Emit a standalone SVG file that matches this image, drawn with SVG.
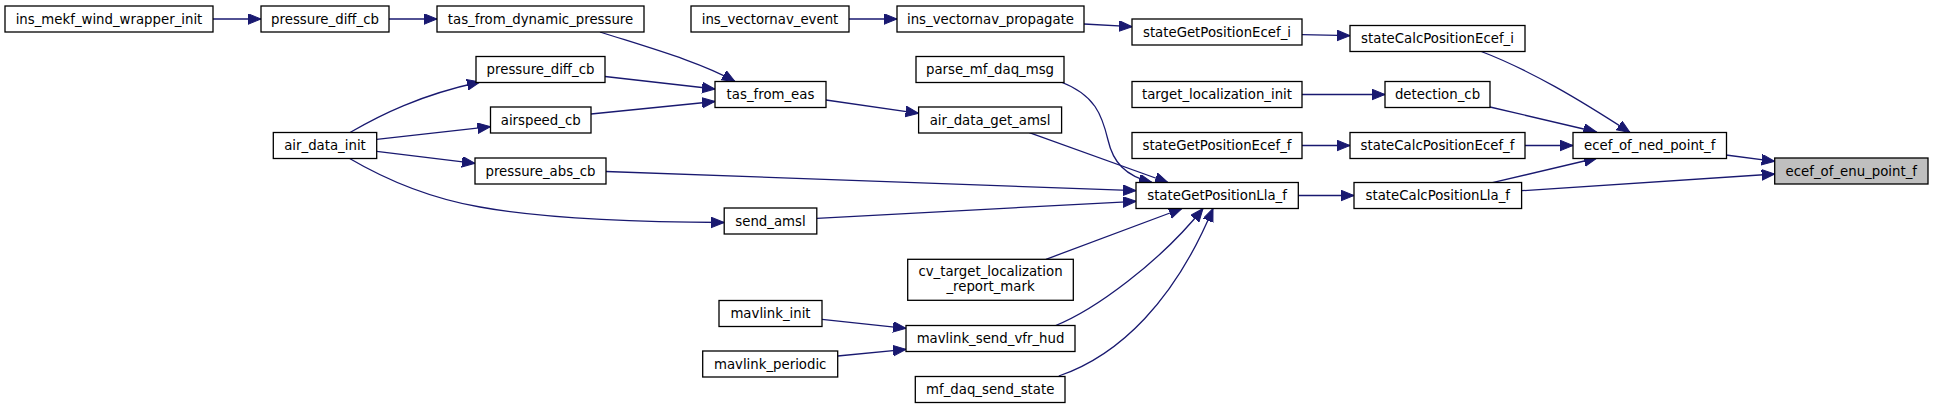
<svg xmlns="http://www.w3.org/2000/svg" width="1933" height="408" viewBox="0 0 1933 408">
<defs>
<marker id="ah" markerUnits="userSpaceOnUse" markerWidth="14" markerHeight="12" refX="13" refY="5.3" orient="auto">
<path d="M0,0 L13,5.3 L0,10.6 Z" fill="#191970" stroke="#191970" stroke-width="1"/>
</marker>
<style>
.n rect{fill:#ffffff;stroke:#000000;stroke-width:1.3}
.n text{font-family:"DejaVu Sans",sans-serif;font-size:13.3px;fill:#000000;text-anchor:middle}
#enu rect{fill:#bfbfbf}
#edges path{fill:none;stroke:#191970;stroke-width:1.3;marker-end:url(#ah)}
</style>
</defs>
<rect width="1933" height="408" fill="#ffffff"/>
<g id="edges">
<path d="M213,19 L261,19"/>
<path d="M389,19 L437,19"/>
<path d="M600,32 C650,48 700,62 735,81.5"/>
<path d="M605,76.5 L715,89"/>
<path d="M591,114 L715,101.5"/>
<path d="M350,132.5 C380,115 420,95 480,82"/>
<path d="M376.7,139.3 L490.5,126.7"/>
<path d="M376.7,151.3 L475,163.3"/>
<path d="M348.3,157.7 C393,184 440,200 480,207 C540,218 620,222 724,222.5"/>
<path d="M606,171.5 L1136,190.7"/>
<path d="M816.8,218.3 L1136,201.3"/>
<path d="M826,100 L918.6,113.3"/>
<path d="M1029.3,132.7 L1168,182.5"/>
<path d="M1061,82 C1095,95 1102,115 1108,140 C1113,162 1125,176 1152,182.5"/>
<path d="M1046,259.3 L1182,208.5"/>
<path d="M1054.6,326 C1095,310 1160,262 1203,208.5"/>
<path d="M1058.8,376 C1120,355 1175,300 1213,208.5"/>
<path d="M822,319.3 L906,328.3"/>
<path d="M837.7,356 L906,349.3"/>
<path d="M849,19 L897,19"/>
<path d="M1084,24 L1132,26.7"/>
<path d="M1302,34.7 L1350,35.7"/>
<path d="M1302,94.5 L1385,94.5"/>
<path d="M1302,145.5 L1350,145.5"/>
<path d="M1525,145.5 L1573,145.5"/>
<path d="M1480,51 C1530,70 1580,100 1630,132.5"/>
<path d="M1490,107 L1596.5,132"/>
<path d="M1492.4,182.7 L1597,158"/>
<path d="M1298.3,195.5 L1354,195.5"/>
<path d="M1726,155 L1774.7,161.3"/>
<path d="M1521.6,190.7 L1774.7,174"/>
</g>
<g id="ins_mekf_wind_wrapper_init" class="n"><rect x="5" y="6" width="208" height="26"/><text x="109" y="23.5">ins_mekf_wind_wrapper_init</text></g>
<g id="pressure_diff_cb_1" class="n"><rect x="261" y="6" width="128" height="26"/><text x="325" y="23.5">pressure_diff_cb</text></g>
<g id="tas_from_dynamic_pressure" class="n"><rect x="437" y="6" width="207" height="26"/><text x="540.5" y="23.5">tas_from_dynamic_pressure</text></g>
<g id="ins_vectornav_event" class="n"><rect x="691" y="6" width="158" height="26"/><text x="770" y="23.5">ins_vectornav_event</text></g>
<g id="ins_vectornav_propagate" class="n"><rect x="897" y="6" width="187" height="26"/><text x="990.5" y="23.5">ins_vectornav_propagate</text></g>
<g id="stateGetPositionEcef_i" class="n"><rect x="1132" y="19" width="170" height="26"/><text x="1217" y="36.5">stateGetPositionEcef_i</text></g>
<g id="stateCalcPositionEcef_i" class="n"><rect x="1350" y="25.5" width="175" height="26"/><text x="1437.5" y="43">stateCalcPositionEcef_i</text></g>
<g id="pressure_diff_cb_2" class="n"><rect x="476" y="56.5" width="129" height="26"/><text x="540.5" y="74">pressure_diff_cb</text></g>
<g id="parse_mf_daq_msg" class="n"><rect x="916" y="56.5" width="148" height="26"/><text x="990" y="74">parse_mf_daq_msg</text></g>
<g id="tas_from_eas" class="n"><rect x="715" y="81.5" width="111" height="26"/><text x="770.5" y="99">tas_from_eas</text></g>
<g id="target_localization_init" class="n"><rect x="1132" y="81.5" width="170" height="26"/><text x="1217" y="99">target_localization_init</text></g>
<g id="detection_cb" class="n"><rect x="1385" y="81.5" width="105" height="26"/><text x="1437.5" y="99">detection_cb</text></g>
<g id="airspeed_cb" class="n"><rect x="490.5" y="107" width="100.5" height="26"/><text x="540.7" y="124.5">airspeed_cb</text></g>
<g id="air_data_get_amsl" class="n"><rect x="918.6" y="107" width="143" height="26"/><text x="990.1" y="124.5">air_data_get_amsl</text></g>
<g id="air_data_init" class="n"><rect x="273.3" y="132.5" width="103.4" height="26"/><text x="325" y="150">air_data_init</text></g>
<g id="stateGetPositionEcef_f" class="n"><rect x="1132" y="132.5" width="170" height="26"/><text x="1217" y="150">stateGetPositionEcef_f</text></g>
<g id="stateCalcPositionEcef_f" class="n"><rect x="1350" y="132.5" width="175" height="26"/><text x="1437.5" y="150">stateCalcPositionEcef_f</text></g>
<g id="ecef_of_ned_point_f" class="n"><rect x="1573" y="132.5" width="153.5" height="26"/><text x="1649.7" y="150">ecef_of_ned_point_f</text></g>
<g id="pressure_abs_cb" class="n"><rect x="475" y="158" width="131" height="26"/><text x="540.5" y="175.5">pressure_abs_cb</text></g>
<g id="enu" class="n"><rect x="1774.7" y="158" width="153.3" height="26"/><text x="1851.3" y="175.5">ecef_of_enu_point_f</text></g>
<g id="stateGetPositionLla_f" class="n"><rect x="1136" y="182.5" width="162.3" height="26"/><text x="1217.1" y="200">stateGetPositionLla_f</text></g>
<g id="stateCalcPositionLla_f" class="n"><rect x="1354" y="182.5" width="167.6" height="26"/><text x="1437.8" y="200">stateCalcPositionLla_f</text></g>
<g id="send_amsl" class="n"><rect x="724.2" y="208" width="92.6" height="26"/><text x="770.5" y="225.5">send_amsl</text></g>
<g id="cv_target_localization_report_mark" class="n"><rect x="907.7" y="259.3" width="165.6" height="41"/><text x="990.5" y="276">cv_target_localization</text><text x="990.5" y="290.5">_report_mark</text></g>
<g id="mavlink_init" class="n"><rect x="719" y="300.5" width="103" height="26"/><text x="770.5" y="318">mavlink_init</text></g>
<g id="mavlink_send_vfr_hud" class="n"><rect x="906" y="325.5" width="169" height="26"/><text x="990.5" y="343">mavlink_send_vfr_hud</text></g>
<g id="mavlink_periodic" class="n"><rect x="702.7" y="351" width="135" height="26"/><text x="770.2" y="368.5">mavlink_periodic</text></g>
<g id="mf_daq_send_state" class="n"><rect x="915.3" y="376.5" width="149.7" height="26"/><text x="990.2" y="394">mf_daq_send_state</text></g>
</svg>
